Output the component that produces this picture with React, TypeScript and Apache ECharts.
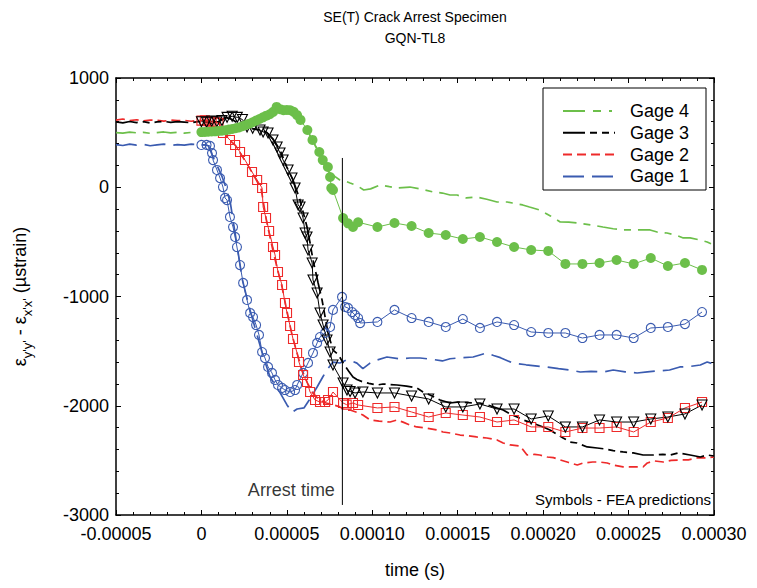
import React, { useEffect, useRef } from "react";
import * as echarts from "echarts";

const FONT = "'Liberation Sans', Arial, Helvetica, sans-serif";

// Axis ticks
const timeMin = -0.00005;
const timeMax = 0.0003;
const timeStep = 0.00005;
const timeTickLabels = ["-0.00005", "0", "0.00005", "0.00010", "0.00015", "0.00020", "0.00025", "0.00030"];
const strainMin = -3000;
const strainMax = 1000;
const strainStep = 1000;
const strainTickLabels = ["-3000", "-2000", "-1000", "0", "1000"];

// Measured strain gage records (time in microseconds, strain in µstrain)
const gage1Time = [-50, -46, -42, -38, -34, -30, -26, -22, -18, -14, -10, -6, -2, 2, 4, 7, 10, 12, 15, 17, 20, 24, 28, 32, 36, 40, 43, 46, 50, 53, 56, 60, 63, 67.7, 71, 74, 77, 81, 85, 88, 91, 94.5, 98.7, 103, 108.6, 116, 122, 128, 135, 141, 145.5, 152, 159, 163, 167, 171, 175, 182.4, 190, 198, 202, 209, 216, 221.7, 228, 235, 241, 248, 255, 261, 268, 274, 280, 286, 292, 296, 300];
const gage1Strain = [390, 382, 395, 385, 392, 380, 388, 395, 384, 390, 386, 394, 390, 388, 380, 270, 170, 100, -30, -150, -450, -850, -1100, -1320, -1540, -1730, -1810, -1880, -1990, -2060, -2030, -2020, -1950, -1828, -1737, -1660, -1600, -1609, -1580, -1590, -1610, -1660, -1610, -1580, -1554, -1570, -1563, -1563, -1575, -1590, -1570, -1560, -1554, -1535, -1517, -1540, -1560, -1610, -1625, -1640, -1645, -1660, -1673, -1691, -1685, -1691, -1673, -1690, -1700, -1690, -1680, -1673, -1645, -1640, -1627, -1600, -1620];

const gage2Time = [-50, -46, -42, -38, -34, -30, -26, -22, -18, -14, -10, -6, -2, 2, 6, 10, 13, 16, 20, 24, 28, 32, 35, 38, 41, 44, 47, 50, 53, 56, 59, 62, 65, 69, 73, 77, 81, 84, 87, 91, 94.5, 98.7, 104, 110.4, 114.5, 118, 122, 126, 132, 138, 141.4, 146, 151.4, 156, 161, 167, 173, 176.6, 180.7, 186.5, 190.6, 195, 198, 202.4, 206, 210, 215, 220, 223.4, 229, 233, 237.5, 241, 246.8, 252, 258.5, 261, 265, 270.3, 275, 280, 285, 290, 295, 300];
const gage2Strain = [615, 625, 610, 618, 608, 615, 612, 605, 615, 610, 612, 604, 612, 610, 605, 590, 520, 440, 380, 280, 180, 70, -20, -300, -520, -720, -900, -1130, -1350, -1520, -1680, -1790, -1880, -1947, -1975, -1990, -2010, -2040, -2039, -2060, -2085, -2130, -2140, -2149, -2130, -2150, -2176, -2194, -2205, -2222, -2240, -2250, -2268, -2275, -2285, -2295, -2313, -2341, -2359, -2368, -2451, -2445, -2451, -2469, -2475, -2496, -2520, -2542, -2524, -2515, -2515, -2524, -2542, -2560, -2560, -2560, -2524, -2505, -2515, -2500, -2496, -2495, -2478, -2478, -2469];

const gage3Time = [-50, -46, -42, -38, -34, -30, -26, -22, -18, -14, -10, -6, -2, 2, 6, 10, 14, 18, 22, 26, 30, 34, 38, 42, 46, 50, 53.6, 57.7, 61.8, 63.6, 65.3, 68.3, 70.6, 72.4, 74.1, 77, 80, 83, 86, 88.7, 91, 94.5, 98, 102.8, 106.3, 110, 114.5, 120, 126, 129.7, 135, 139.7, 145.5, 149.6, 154, 159, 163, 168, 173, 176.6, 180, 184.8, 188.3, 194, 200, 204, 208, 211.7, 215.8, 219.9, 225.8, 231.6, 236, 241, 246.8, 252.7, 258.5, 264.4, 270, 274.3, 279, 286, 292, 296, 300];
const gage3Strain = [598, 590, 602, 592, 600, 588, 598, 603, 594, 600, 596, 590, 600, 598, 585, 600, 640, 620, 580, 555, 535, 524, 505, 440, 341, 185, 67, -117, -364, -510, -666, -876, -1032, -1188, -1334, -1490, -1530, -1609, -1680, -1737, -1760, -1782, -1795, -1810, -1801, -1805, -1810, -1820, -1837, -1874, -1910, -1947, -1975, -1966, -1970, -1975, -1975, -1995, -2020, -2039, -2070, -2103, -2130, -2160, -2194, -2222, -2260, -2295, -2332, -2341, -2377, -2387, -2395, -2410, -2423, -2432, -2451, -2451, -2445, -2451, -2432, -2451, -2469, -2451, -2460];

const gage4Time = [-50, -46, -42, -38, -34, -30, -26, -22, -18, -14, -10, -6, -2, 4, 10, 16, 22, 28, 34, 40, 46, 50, 54, 58, 62, 66, 70, 73, 75, 78, 81, 84, 87, 91, 95, 99, 104.5, 110, 114.5, 122, 128, 135.6, 141, 145.5, 149.6, 155, 161, 167, 173, 179, 182, 188, 192, 198, 204, 210, 215, 220, 228, 235, 241, 247, 252.7, 258.5, 262.6, 266.7, 272.5, 278, 282, 286, 291, 296, 300];
const gage4Strain = [500, 495, 505, 498, 503, 494, 500, 506, 498, 503, 495, 502, 505, 505, 512, 525, 550, 585, 625, 665, 700, 705, 690, 620, 520, 400, 270, 190, 130, 100, 67, 58, 39, 15, -25, -15, 21, 5, -7, 2, -15, -43, -53, -71, -71, -98, -89, -110, -135, -135, -144, -162, -181, -208, -260, -318, -320, -327, -345, -364, -380, -391, -391, -391, -391, -410, -419, -440, -464, -464, -480, -501, -529];

// FEA predictions (time in microseconds, strain in µstrain)
const fea1Time = [0, 3, 5, 6.2, 6.8, 9.1, 10.9, 12.6, 13.8, 15, 16.7, 18.5, 19.7, 20.8, 22.6, 24.4, 26.7, 28.5, 30.2, 32, 33.7, 35.5, 37.2, 39, 41.3, 43.1, 44.8, 47.2, 48.9, 51.9, 54.8, 56, 59.5, 62.4, 65.3, 67.7, 69.4, 72.4, 75.3, 77, 82.3, 84.1, 85.8, 88.2, 89.9, 91.7, 92.9, 103, 113, 123, 133, 143, 153, 163, 173, 183, 193, 203, 213, 223, 233, 243, 253, 263, 273, 283, 293];
const fea1Strain = [387, 387, 378, 313, 249, 158, 84, 2, -98, -117, -272, -364, -455, -547, -712, -876, -1032, -1151, -1188, -1261, -1352, -1508, -1563, -1645, -1700, -1764, -1810, -1837, -1856, -1874, -1856, -1810, -1700, -1608, -1517, -1425, -1371, -1334, -1279, -1123, -1004, -1096, -1105, -1142, -1169, -1197, -1243, -1233, -1123, -1197, -1233, -1279, -1206, -1288, -1233, -1261, -1325, -1334, -1334, -1380, -1352, -1352, -1380, -1288, -1279, -1252, -1142];

const fea2Time = [0, 2, 4, 6, 8, 10, 12.6, 16.7, 19.7, 22.6, 25.5, 29.6, 32.6, 35.5, 36.1, 37.8, 39.6, 41.9, 43.1, 44.8, 47.2, 48.9, 50.1, 51.9, 53.6, 56, 57.1, 59.5, 61.8, 63.6, 66.5, 69.4, 72.4, 74.1, 77, 82.9, 85, 88.7, 91.7, 103, 113, 123, 133, 143, 153, 163, 173, 183, 193, 203, 213, 223, 233, 243, 253, 263, 273, 283, 293];
const fea2Strain = [610, 612, 605, 600, 595, 590, 497, 432, 387, 323, 249, 140, 67, -7, -181, -282, -400, -547, -620, -776, -895, -1059, -1151, -1270, -1389, -1517, -1600, -1718, -1782, -1874, -1947, -1966, -1966, -1947, -1874, -1975, -1990, -1975, -1993, -2020, -2011, -2057, -2103, -2066, -2085, -2103, -2149, -2130, -2194, -2194, -2240, -2204, -2204, -2194, -2240, -2149, -2112, -2020, -1966];

const fea3Time = [0, 3, 6, 9, 12, 15, 18, 21, 24, 26.7, 30, 34.3, 36.1, 39, 41.9, 44.3, 46, 47.8, 50.7, 53, 54.8, 56.6, 57.7, 59.5, 60.7, 61.8, 62.4, 64.8, 65.3, 67.7, 69.4, 71.2, 73.5, 75.3, 77, 82.9, 85.2, 87, 89.9, 94.5, 103, 113, 123, 133, 143, 153, 163, 173, 183, 193, 203, 213, 223, 233, 243, 253, 263, 273, 283, 293];
const fea3Strain = [600, 595, 605, 600, 610, 640, 650, 640, 620, 551, 540, 524, 506, 497, 433, 368, 314, 249, 158, 85, -7, -162, -181, -282, -419, -455, -574, -693, -849, -968, -1151, -1261, -1398, -1508, -1627, -1792, -1856, -1870, -1883, -1874, -1883, -1883, -1911, -1938, -2011, -2011, -1984, -2030, -2030, -2121, -2094, -2194, -2194, -2130, -2149, -2149, -2121, -2103, -2075, -1993];

const fea4Time = [0, 2, 4, 6, 8, 10, 12, 14, 16, 18, 20, 22, 24, 26, 28, 30, 32, 34, 36, 38, 40, 42, 44, 46, 48, 50, 52, 54, 56, 58, 62, 65, 69, 71, 74, 75.3, 76, 77, 82.9, 85.8, 88.7, 91.7, 103, 113, 123, 133, 143, 153, 163, 173, 183, 193, 203, 213, 223, 233, 243, 253, 263, 273, 283, 293];
const fea4Strain = [505, 506, 508, 510, 512, 515, 518, 522, 528, 533, 540, 548, 558, 570, 582, 595, 610, 625, 640, 655, 668, 690, 735, 715, 705, 708, 705, 690, 660, 616, 524, 433, 323, 249, 185, 94, -7, -25, -282, -330, -364, -320, -364, -327, -355, -419, -437, -474, -455, -501, -547, -574, -583, -702, -702, -693, -666, -702, -648, -721, -693, -757];

// Crack arrest marker
const arrestTime = 82.5;
const arrestSpan = [268, -2908];
const arrestLabelStrain = -2771;

const BLUE = "#3a5bb0";
const RED = "#ee2a2a";
const BLACK = "#000000";
const GREEN = "#6cbf4a";

const DASH_G1 = [21, 8];
const DASH_G2 = [9, 5];
const DASH_G3 = [22, 5, 7, 5, 7, 5];
const DASH_G4 = [20, 7, 7, 7];

const pairs = (ts: number[], vs: number[]) => ts.map((t, i) => [t * 1e-6, vs[i]]);

function measured(name: string, ts: number[], vs: number[], color: string, dash: number[]) {
  return {
    name,
    type: "line",
    data: pairs(ts, vs),
    showSymbol: false,
    symbol: "none",
    lineStyle: { color, width: 1.7, type: dash },
    silent: true,
    z: 2,
  };
}

function fea(name: string, ts: number[], vs: number[], color: string, symbol: string, filled: boolean, size: number, rotate = 0) {
  return {
    name,
    type: "line",
    data: pairs(ts, vs),
    symbol,
    symbolSize: size,
    symbolRotate: rotate,
    showSymbol: true,
    lineStyle: { color, width: 1 },
    itemStyle: filled
      ? { color, borderWidth: 0 }
      : { color: "rgba(0,0,0,0)", borderColor: color, borderWidth: 1.1 },
    silent: true,
    z: 3,
  };
}

const legendRows = [
  { label: "Gage 4", color: GREEN, dash: [22, 8, 8, 8, 3, 8] },
  { label: "Gage 3", color: BLACK, dash: DASH_G3 },
  { label: "Gage 2", color: RED, dash: DASH_G2 },
  { label: "Gage 1", color: BLUE, dash: DASH_G1 },
];

export default function App() {
  const ref = useRef<HTMLDivElement>(null);

  useEffect(() => {
    if (!ref.current) return;
    const chart = echarts.init(ref.current, undefined, { renderer: "svg" });

    const baseX = {
      type: "value",
      min: timeMin,
      max: timeMax,
      interval: timeStep,
      axisLine: { show: true, onZero: false, lineStyle: { color: "#000", width: 1.5 } },
      axisTick: { show: true, inside: true, length: 5, lineStyle: { color: "#000", width: 1 } },
      minorTick: { show: true, splitNumber: 5, length: 3, lineStyle: { color: "#000", width: 1 } },
      splitLine: { show: false },
    };
    const baseY = {
      type: "value",
      min: strainMin,
      max: strainMax,
      interval: strainStep,
      axisLine: { show: true, onZero: false, lineStyle: { color: "#000", width: 1.5 } },
      axisTick: { show: true, inside: true, length: 5, lineStyle: { color: "#000", width: 1 } },
      minorTick: { show: true, splitNumber: 5, length: 3, lineStyle: { color: "#000", width: 1 } },
      splitLine: { show: false },
    };

    const legendGraphics: any[] = [
      {
        type: "rect",
        shape: { x: 543, y: 88, width: 163, height: 102 },
        style: { fill: "#fff", stroke: "#000", lineWidth: 1 },
        z: 100,
      },
    ];
    legendRows.forEach((row, i) => {
      const y = 111 + i * 21.8;
      legendGraphics.push({
        type: "line",
        shape: { x1: 563, y1: y, x2: 615, y2: y },
        style: { stroke: row.color, lineWidth: 2, lineDash: row.dash },
        z: 101,
      });
      legendGraphics.push({
        type: "text",
        x: 630,
        y,
        style: {
          text: row.label,
          fill: "#000",
          font: `18px ${FONT}`,
          textVerticalAlign: "middle",
          verticalAlign: "middle",
        },
        z: 101,
      });
    });

    const centered = (text: string, y: number, size: number) => ({
      type: "text",
      x: 415,
      y,
      style: {
        text,
        fill: "#000",
        font: `${size}px ${FONT}`,
        textAlign: "center",
        align: "center",
        textVerticalAlign: "middle",
        verticalAlign: "middle",
      },
    });

    const option: any = {
      animation: false,
      backgroundColor: "#fff",
      textStyle: { fontFamily: FONT },
      grid: { left: 116, right: 43, top: 78, bottom: 73, containLabel: false },
      xAxis: [
        {
          ...baseX,
          position: "bottom",
          name: "time (s)",
          nameLocation: "middle",
          nameGap: 46,
          nameTextStyle: { color: "#000", fontSize: 18, fontFamily: FONT },
          axisLabel: {
            color: "#000",
            fontSize: 18,
            fontFamily: FONT,
            margin: 10,
            formatter: (v: number) => timeTickLabels[Math.round((v - timeMin) / timeStep)] ?? "",
          },
        },
        { ...baseX, position: "top", axisLabel: { show: false } },
      ],
      yAxis: [
        {
          ...baseY,
          position: "left",
          name: "{e|ε}{s|y'y'}{e| - ε}{s|x'x'}{e| (µstrain)}",
          nameLocation: "middle",
          nameGap: 82,
          nameTextStyle: {
            color: "#000",
            fontFamily: FONT,
            rich: {
              e: { fontSize: 18, fontFamily: FONT, color: "#000", verticalAlign: "bottom", lineHeight: 24, padding: [0, 0, 5, 0] },
              s: { fontSize: 13, fontFamily: FONT, color: "#000", verticalAlign: "bottom", lineHeight: 24 },
            },
          },
          axisLabel: {
            color: "#000",
            fontSize: 18,
            fontFamily: FONT,
            margin: 7,
            formatter: (v: number) => strainTickLabels[Math.round((v - strainMin) / strainStep)] ?? "",
          },
        },
        { ...baseY, position: "right", axisLabel: { show: false } },
      ],
      graphic: [
        centered("SE(T) Crack Arrest Specimen", 17, 14),
        centered("GQN-TL8", 38, 14),
        {
          type: "text",
          x: 711,
          y: 499,
          style: {
            text: "Symbols - FEA predictions",
            fill: "#000",
            font: `15px ${FONT}`,
            textAlign: "right",
            align: "right",
            textVerticalAlign: "middle",
            verticalAlign: "middle",
          },
          z: 100,
        },
        ...legendGraphics,
      ],
      series: [
        measured("Gage 1", gage1Time, gage1Strain, BLUE, DASH_G1),
        measured("Gage 2", gage2Time, gage2Strain, RED, DASH_G2),
        measured("Gage 3", gage3Time, gage3Strain, BLACK, DASH_G3),
        measured("Gage 4", gage4Time, gage4Strain, GREEN, DASH_G4),
        fea("FEA Gage 1", fea1Time, fea1Strain, BLUE, "circle", false, 9),
        fea("FEA Gage 2", fea2Time, fea2Strain, RED, "rect", false, 9),
        fea("FEA Gage 3", fea3Time, fea3Strain, BLACK, "triangle", false, 10, 180),
        fea("FEA Gage 4", fea4Time, fea4Strain, GREEN, "circle", true, 10),
        {
          name: "Arrest",
          type: "line",
          data: pairs([arrestTime, arrestTime], arrestSpan),
          showSymbol: false,
          symbol: "none",
          lineStyle: { color: "#000", width: 1 },
          silent: true,
          z: 4,
        },
        {
          name: "Arrest label",
          type: "scatter",
          data: pairs([arrestTime], [arrestLabelStrain]),
          symbolSize: 1,
          itemStyle: { color: "rgba(0,0,0,0)" },
          label: {
            show: true,
            formatter: "Arrest time",
            position: "left",
            distance: 7,
            color: "#000",
            fontSize: 18,
            fontFamily: FONT,
          },
          silent: true,
          z: 4,
        },
      ],
    };

    chart.setOption(option);
    return () => chart.dispose();
  }, []);

  return (
    <div
      ref={ref}
      style={{ position: "absolute", left: 0, top: 0, width: 757, height: 588, background: "#fff" }}
    />
  );
}
